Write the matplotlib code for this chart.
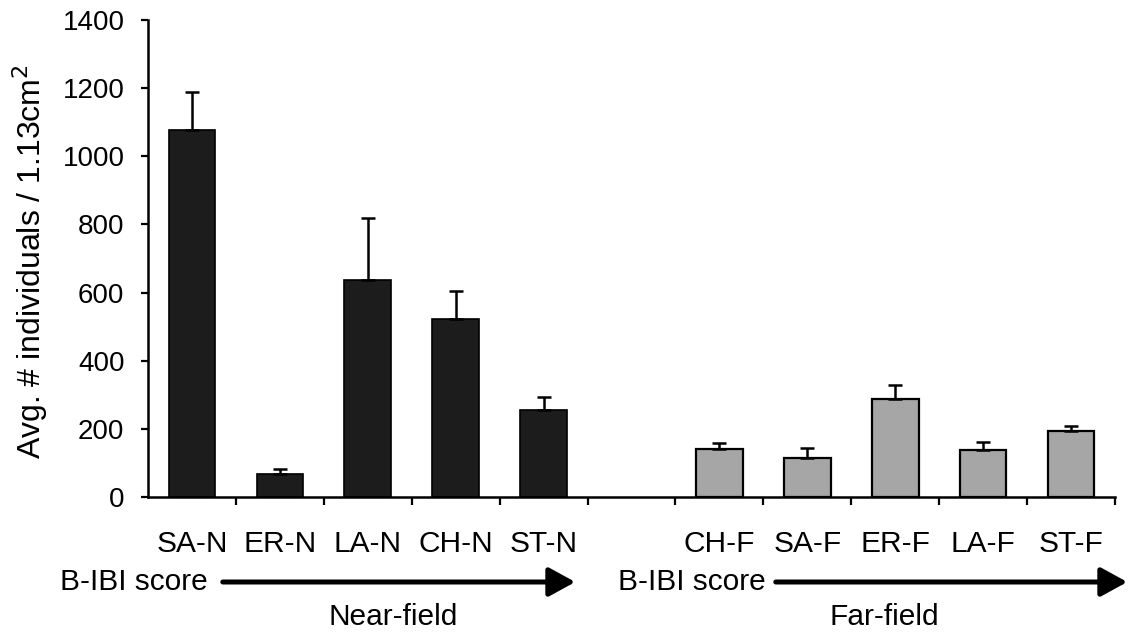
import numpy as np
import matplotlib
matplotlib.use("Agg")
import matplotlib.pyplot as plt
from matplotlib.patches import FancyArrowPatch, ArrowStyle

plt.rcParams['font.family'] = ['Liberation Sans', 'DejaVu Sans']

# mean abundance per station, with the upper error bar extent
near_sites = ["SA-N", "ER-N", "LA-N", "CH-N", "ST-N"]
near_means = [1077, 67, 637, 522, 255]
near_err   = [112, 15, 182, 83, 39]

far_sites  = ["CH-F", "SA-F", "ER-F", "LA-F", "ST-F"]
far_means  = [141, 114, 288, 138, 194]
far_err    = [17, 30, 41, 23, 14]

yticks = np.arange(0, 1401, 200)

fig = plt.figure(figsize=(11.28, 6.35), dpi=100)
ax = fig.add_axes([148/1128, 138/635, 967/1128, 477/635])

# near-field bars in slots 0-4, one empty slot, far-field bars in slots 6-10
x_near = np.arange(len(near_sites))
x_far  = np.arange(len(far_sites)) + len(near_sites) + 1
width  = 0.53

ax.bar(x_near, near_means, width=width, color="#1c1c1c", edgecolor="black", linewidth=1.2,
       yerr=[np.zeros(len(near_err)), near_err],
       error_kw=dict(ecolor="black", elinewidth=1.8, capsize=5, capthick=1.8))
ax.bar(x_far, far_means, width=width, color="#a6a6a6", edgecolor="black", linewidth=1.6,
       yerr=[np.zeros(len(far_err)), far_err],
       error_kw=dict(ecolor="black", elinewidth=1.8, capsize=5, capthick=1.8))

ax.set_xlim(-0.5, 10.5)
ax.set_ylim(0, 1400)
ax.set_yticks(yticks)
ax.tick_params(axis='y', direction='out', length=5, width=1.6, labelsize=20, pad=12)

# labels sit at the bar centres, tick marks at the slot boundaries
ax.set_xticks(np.concatenate([x_near, x_far]))
ax.set_xticklabels(near_sites + far_sites)
ax.set_xticks(np.arange(-0.5, 10.6, 1.0)[1:], minor=True)
ax.tick_params(axis='x', which='major', length=0, labelsize=21.5, pad=24)
ax.tick_params(axis='x', which='minor', direction='out', length=6, width=1.6)

for side in ("top", "right"):
    ax.spines[side].set_visible(False)
for side in ("left", "bottom"):
    ax.spines[side].set_linewidth(1.8)

fig.text(30/1128, 1 - 262/635, "Avg. # individuals / 1.13cm$^2$", rotation=90,
         ha="center", va="center", fontsize=23)

# B-IBI score arrows under each group
def score_arrow(text_x, x0, x1, y):
    fig.text(text_x/1128, 1 - y/635, "B-IBI score", ha="left", va="center", fontsize=21.5)
    arr = FancyArrowPatch((x0/1128, 1 - y/635), (x1/1128, 1 - y/635),
                          transform=fig.transFigure,
                          arrowstyle=ArrowStyle("-|>", head_length=1.0, head_width=0.55),
                          mutation_scale=16, lw=3.6, color="black")
    fig.patches.append(arr)

score_arrow(60, 220, 578, 582)
score_arrow(618, 773, 1130, 582)

fig.text(393/1128, 1 - 617/635, "Near-field", ha="center", va="center", fontsize=21.5)
fig.text(884/1128, 1 - 617/635, "Far-field", ha="center", va="center", fontsize=21.5)

fig.savefig("out.png", dpi=100)
